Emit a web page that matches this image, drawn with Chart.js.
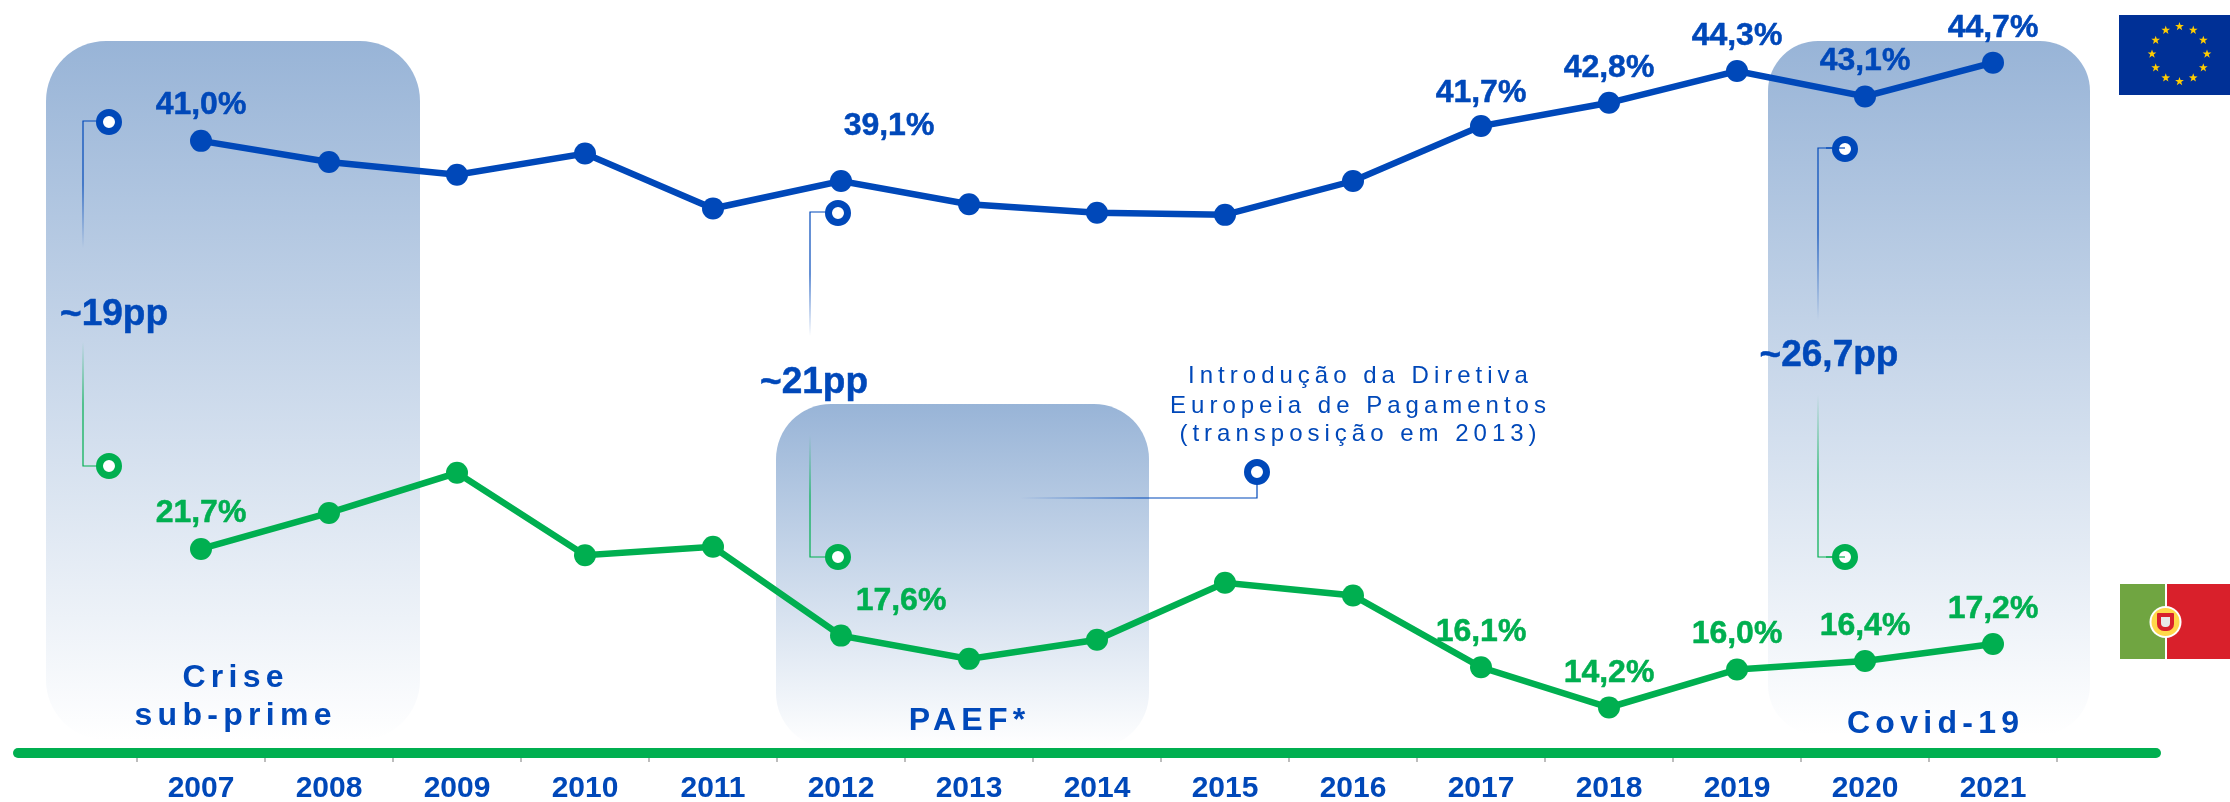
<!DOCTYPE html>
<html><head><meta charset="utf-8">
<style>html,body{margin:0;padding:0;background:#fff}canvas{display:block}</style>
<script src="https://cdn.jsdelivr.net/npm/chart.js@4"></script>
</head><body><canvas id="c" width="2230" height="802"></canvas>
<script>
const years = ['2007','2008','2009','2010','2011','2012','2013','2014','2015','2016','2017','2018','2019','2020','2021'];
const euValues = [41.0,40.0,39.4,40.4,37.8,39.1,38.0,37.6,37.5,39.1,41.7,42.8,44.3,43.1,44.7];
const ptValues = [21.7,23.4,25.3,21.4,21.8,17.6,16.5,17.4,20.1,19.5,16.1,14.2,16.0,16.4,17.2];
const euLabelled = ['2007','2012','2017','2018','2019','2020','2021'];
const ptLabelled = ['2007','2012','2017','2018','2019','2020','2021'];
const BLUE = '#0048B9', GREEN = '#00AF50', FONT = '"Liberation Sans", Arial, sans-serif';

// label nudges relative to the point [dx, dy of baseline]
const euNudge = {'2007':[0,-27],'2012':[48,-46],'2017':[0,-24],'2018':[0,-26],'2019':[0,-26],'2020':[0,-26],'2021':[0,-26]};
const ptNudge = {'2007':[0,-27],'2012':[60,-26],'2017':[0,-26],'2018':[0,-25],'2019':[0,-26],'2020':[0,-26],'2021':[0,-26]};

function band(ctx,x0,x1,y0,y1,r){
  const g=ctx.createLinearGradient(0,y0,0,y1);
  g.addColorStop(0,'#98B4D7'); g.addColorStop(1,'#FFFFFF');
  ctx.fillStyle=g; ctx.beginPath(); ctx.roundRect(x0,y0,x1-x0,y1-y0,r); ctx.fill();
}
function txt(ctx,s,x,y,font,color,ls,sw){
  ctx.font=font; ctx.fillStyle=color; ctx.textAlign='center'; ctx.textBaseline='alphabetic';
  ctx.letterSpacing=(ls||0)+'px';
  ctx.fillText(s,x+(ls||0)/2,y);
  if(sw){ctx.strokeStyle=color;ctx.lineWidth=sw;ctx.lineJoin='round';ctx.strokeText(s,x+(ls||0)/2,y);}
  ctx.letterSpacing='0px';
}
function fadeLine(ctx,pts,color,fx0,fy0,fx1,fy1){
  const g=ctx.createLinearGradient(fx0,fy0,fx1,fy1);
  g.addColorStop(0,color); g.addColorStop(0.5,color);
  g.addColorStop(1,color+'00');
  ctx.strokeStyle=g; ctx.lineWidth=1.2; ctx.beginPath();
  pts.forEach((p,i)=> i?ctx.lineTo(p[0],p[1]):ctx.moveTo(p[0],p[1])); ctx.stroke();
}
function ring(ctx,x,y,color){
  ctx.beginPath(); ctx.arc(x,y,9.5,0,Math.PI*2); ctx.fillStyle='#fff'; ctx.fill();
  ctx.lineWidth=7; ctx.strokeStyle=color; ctx.stroke();
}
function star(ctx,x,y,r){
  ctx.beginPath();
  for(let i=0;i<10;i++){const a=-Math.PI/2+i*Math.PI/5,q=i%2?r*0.4:r;
    ctx.lineTo(x+q*Math.cos(a),y+q*Math.sin(a));}
  ctx.closePath(); ctx.fill();
}
function flags(ctx){
  ctx.fillStyle='#003096'; ctx.fillRect(2119,15,111,80);
  ctx.fillStyle='#FFCC00';
  for(let i=0;i<12;i++){const a=i*Math.PI/6; star(ctx,2179.5+27.5*Math.cos(a),54+27.5*Math.sin(a),4.6);}
  ctx.fillStyle='#70A541'; ctx.fillRect(2120,584,45,75);
  ctx.fillStyle='#D9202B'; ctx.fillRect(2167,584,63,75);
  ctx.fillStyle='#fff'; ctx.beginPath(); ctx.arc(2165.5,622,16,0,Math.PI*2); ctx.fill();
  ctx.fillStyle='#FFD84A'; ctx.beginPath(); ctx.arc(2165.5,622,14,0,Math.PI*2); ctx.fill();
  ctx.fillStyle='#D9202B'; ctx.beginPath(); ctx.roundRect(2157,613,17,18,[1,1,7,7]); ctx.fill();
  ctx.fillStyle='#E8E8E8'; ctx.beginPath(); ctx.roundRect(2161,617,9,10,[0,0,4,4]); ctx.fill();
}

const backdrop = { id:'backdrop', beforeDatasetsDraw(chart){
  const c=chart.ctx; c.save();
  band(c,46,420,41,740,60);
  band(c,776,1149,404,748,55);
  band(c,1768,2090,41,735,50);
  // connectors
  fadeLine(c,[[108,121],[83,121],[83,248]],BLUE,83,121,83,248);
  fadeLine(c,[[108,466],[83,466],[83,342]],GREEN,83,466,83,342);
  fadeLine(c,[[837,212],[810,212],[810,336]],BLUE,810,212,810,336);
  fadeLine(c,[[837,557],[810,557],[810,435]],GREEN,810,557,810,435);
  fadeLine(c,[[1845,148],[1818,148],[1818,320]],BLUE,1818,148,1818,320);
  fadeLine(c,[[1845,557],[1818,557],[1818,395]],GREEN,1818,557,1818,395);
  fadeLine(c,[[1257,472],[1257,498],[1020,498]],BLUE,1257,498,1020,498);
  ring(c,109,122,BLUE); ring(c,109,466,GREEN);
  ring(c,838,213,BLUE); ring(c,838,557,GREEN);
  ring(c,1845,149,BLUE); ring(c,1845,557,GREEN);
  ring(c,1257,472,BLUE);
  c.lineWidth=1.2;
  c.beginPath(); c.strokeStyle=BLUE; c.moveTo(1826,148); c.lineTo(1845,148); c.stroke();
  c.beginPath(); c.strokeStyle=GREEN; c.moveTo(1826,557); c.lineTo(1845,557); c.stroke();
  c.restore();
}};
const overlay = { id:'overlay', afterDraw(chart){
  const c=chart.ctx; c.save();
  // axis bar
  c.strokeStyle=GREEN; c.lineWidth=10; c.lineCap='round';
  c.beginPath(); c.moveTo(18,753); c.lineTo(2156,753); c.stroke();
  // value labels
  [[0,euLabelled,euNudge,euValues,BLUE],[1,ptLabelled,ptNudge,ptValues,GREEN]].forEach(([d,list,nudge,vals,col])=>{
    const pts=chart.getDatasetMeta(d).data;
    list.forEach(y=>{const i=years.indexOf(y),n=nudge[y];
      txt(c,vals[i].toFixed(1).replace('.',',')+'%',pts[i].x+n[0],pts[i].y+n[1],'bold 32px '+FONT,col,0,0.5);});
  });
  const B='bold 37px '+FONT;
  txt(c,'~19pp',114,325,B,BLUE,0,0.5);
  txt(c,'~21pp',814,393,B,BLUE,0,0.5);
  txt(c,'~26,7pp',1829,366,B,BLUE,0,0.5);
  const E='bold 32px '+FONT;
  txt(c,'Crise',233,687,E,BLUE,5.3);
  txt(c,'sub-prime',233,725,E,BLUE,5.3);
  txt(c,'PAEF*',967,730,E,BLUE,5.3);
  txt(c,'Covid-19',1933,733,E,BLUE,5.3);
  const R='24px '+FONT;
  txt(c,'Introdução da Diretiva',1358,383,R,BLUE,5);
  txt(c,'Europeia de Pagamentos',1358,413,R,BLUE,5);
  txt(c,'(transposição em 2013)',1358,441,R,BLUE,5);
  flags(c);
  c.restore();
}};

new Chart(document.getElementById('c'),{
  type:'line',
  data:{labels:years,datasets:[
    {label:'UE',data:euValues,borderColor:BLUE,backgroundColor:BLUE,borderWidth:6.5,pointRadius:11,pointBorderWidth:0,tension:0},
    {label:'Portugal',data:ptValues,borderColor:GREEN,backgroundColor:GREEN,borderWidth:6.5,pointRadius:11,pointBorderWidth:0,tension:0}
  ]},
  plugins:[backdrop,overlay],
  options:{
    responsive:false,animation:false,devicePixelRatio:1,
    layout:{padding:{left:137,right:173,top:14,bottom:0}},
    plugins:{legend:{display:false},tooltip:{enabled:false},title:{display:false}},
    scales:{
      x:{offset:true,
        afterFit(a){a.height=48;},
        grid:{offset:true,drawOnChartArea:false,drawTicks:true,tickLength:8,color:'#BDBDBD',lineWidth:2},
        border:{display:false},
        ticks:{color:BLUE,font:{family:FONT,size:30,weight:'bold'},padding:9,maxRotation:0,autoSkip:false}},
      y:{display:false,min:12,max:47}
    }
  }
});
</script></body></html>
